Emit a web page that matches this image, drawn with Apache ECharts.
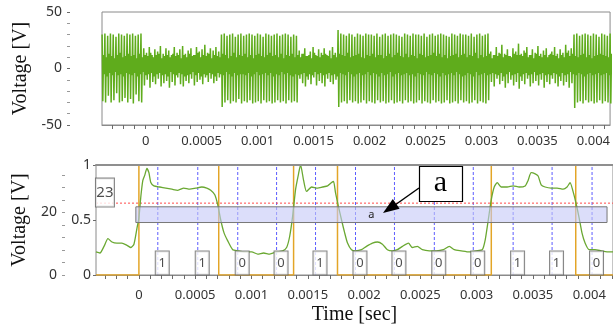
<!DOCTYPE html>
<html><head><meta charset="utf-8">
<script src="https://cdn.jsdelivr.net/npm/echarts@6/dist/echarts.min.js"></script>
<style>html,body{margin:0;padding:0;background:#fff}#c{width:613px;height:326px}</style>
</head><body><div id="c"></div>
<script>
// ---------- axis ranges & ticks ----------
const topXMin = -0.000390, topXMax = 0.004149;
const botXMin = -0.000381, botXMax = 0.004211;
const xLabelValues = [0,0.0005,0.001,0.0015,0.002,0.0025,0.003,0.0035,0.004];
const xTickValues = [-0.0003,-0.0002,-0.0001,0,0.0001,0.0002,0.0003,0.0004,0.0005,0.0006,0.0007,0.0008,0.0009,0.001,0.0011,0.0012,0.0013,0.0014,0.0015,0.0016,0.0017,0.0018,0.0019,0.002,0.0021,0.0022,0.0023,0.0024,0.0025,0.0026,0.0027,0.0028,0.0029,0.003,0.0031,0.0032,0.0033,0.0034,0.0035,0.0036,0.0037,0.0038,0.0039,0.004,0.0041,0.0042];
const outerMax = 35.2;
const outerTicks = [0,4,8,12,16,20,24,28,32];
const outerLabels = [0,20];

// ---------- top: received carrier (sampled, 4 samples per carrier cycle) ----------
const topT0 = -0.000389, topStep = 0.0000062;
const topPeaks = [
30,31,29,31,30,28,31,30,29,31,30,31,29,30,31,
18,14,19,12,17,15,20,13,18,16,12,19,14,17,20,13,16,18,12,19,15,17,21,14,18,16,19,15,
30,31,29,30,31,28,30,31,29,30,31,30,29,31,30,28,31,30,29,30,31,29,30,31,30,28,30,29,
16,13,18,11,15,19,12,17,14,18,12,16,19,14,
34,31,30,29,31,30,28,31,30,29,31,30,30,29,31,28,30,31,29,30,31,30,29,28,31,30,29,31,30,30,29,31,28,30,31,29,30,31,30,29,28,31,30,29,31,30,30,29,31,28,30,31,29,30,31,
15,12,19,14,21,13,17,11,18,15,22,13,16,19,12,17,14,20,13,16,18,12,15,19,13,17,14,21,16,18,
30,31,29,30,31,30,29,31,30,28,31,30,29,31];
const topTroughs = [
-29,-30,-24,-30,-28,-22,-30,-29,-26,-30,-27,-31,-23,-29,-30,
-15,-10,-17,-12,-14,-9,-16,-13,-11,-17,-12,-15,-8,-14,-16,-11,-13,-9,-15,-12,-10,-14,-8,-12,-9,-13,-11,-8,
-34,-30,-28,-31,-29,-30,-27,-31,-29,-30,-28,-31,-30,-29,-31,-28,-30,-29,-31,-30,-28,-30,-29,-31,-28,-30,-29,-30,
-9,-13,-16,-10,-14,-8,-15,-11,-13,-16,-9,-12,-14,-10,
-34,-30,-29,-31,-28,-30,-29,-31,-30,-28,-31,-29,-30,-31,-28,-30,-29,-31,-30,-28,-31,-30,-29,-31,-28,-30,-29,-31,-30,-28,-31,-29,-30,-31,-28,-30,-29,-31,-30,-28,-31,-30,-29,-31,-28,-30,-29,-31,-30,-28,-31,-29,-30,-31,-28,
-12,-16,-9,-14,-11,-17,-13,-10,-15,-12,-18,-11,-14,-9,-16,-13,-11,-15,-10,-17,-12,-14,-9,-13,-16,-11,-15,-12,-17,-13,
-35,-30,-29,-31,-28,-30,-29,-31,-30,-28,-31,-29,-30,-31];
const topCoreHi = [
12,10,13,11,9,12,14,10,11,13,11,12,9,13,10,12,11,14,10,12,
13,9,11,12,10,13,11,12,9,12,10,13,11,12,14,10,12,11,13,9,
12,11,10,13,12,9,11,14,10,12,11,13,10,12,9,12,13,11,10,12,
14,11,12,10,13,9,12,11,13,10,12,10,13,11,12,9,14,11,10,12,
13,11,9,12,10,13,12,11,14,10,11,12,13,10,9,12,11,13,10,12,
12,9,11,13,10,12,14,11,10,13,10,12,11,9,13,12,10,11,12,14,
11,13,10,12,9,11,12,13,10,12,13,10,12,11,14,9,12,10,11,13,
9,12,11,13,10,12,11,10,13,12,12,11,14,10,12,9,13,11,10,12,
10,13,12,11,9,12,10,14,11,13,11,10,12,13,10,12,9,11,12,13,
12,11,10,13];
const topCoreLo = [
-5,-7,-4,-6,-3,-6,-5,-7,-4,-5,-6,-4,-7,-5,-3,-6,-5,-4,-7,-5,
-4,-6,-5,-7,-3,-5,-6,-4,-5,-7,-6,-5,-3,-6,-4,-7,-5,-6,-4,-5,
-7,-4,-5,-6,-3,-5,-7,-4,-6,-5,-5,-6,-4,-7,-5,-3,-6,-5,-4,-6,
-4,-7,-5,-6,-3,-5,-4,-6,-7,-5,-6,-5,-4,-7,-5,-6,-3,-5,-4,-6,
-5,-4,-6,-5,-7,-4,-5,-6,-3,-5,-7,-5,-4,-6,-5,-3,-6,-4,-5,-7,
-4,-6,-5,-3,-7,-5,-4,-6,-5,-4,-6,-5,-7,-4,-5,-6,-3,-5,-6,-4,
-5,-7,-4,-6,-5,-4,-6,-3,-5,-7,-6,-4,-5,-7,-3,-6,-5,-4,-6,-5,
-4,-5,-6,-4,-7,-5,-3,-6,-5,-4,-7,-5,-4,-6,-5,-3,-6,-5,-4,-6,
-5,-6,-4,-5,-7,-4,-6,-5,-3,-5,-6,-4,-5,-7,-5,-4,-6,-5,-4,-6,
-5,-4,-6,-5];

// ---------- bottom: demodulated envelope ----------
const envT = [-0.000381,-0.000346,-0.000310,-0.000275,-0.000239,-0.000195,-0.000151,-0.000106,-0.000071,-0.000044,-0.000018,0,0.000018,0.000035,0.000053,0.000071,0.000089,0.000106,0.000133,0.000186,0.000239,0.000293,0.000346,0.000399,0.000452,0.000505,0.000559,0.000603,0.000638,0.000674,0.000700,0.000727,0.000754,0.000789,0.000833,0.000878,0.000940,0.001002,0.001055,0.001108,0.001161,0.001223,0.001277,0.001312,0.001339,0.001365,0.001392,0.001418,0.001436,0.001463,0.001489,0.001534,0.001587,0.001631,0.001676,0.001711,0.001729,0.001746,0.001773,0.001800,0.001826,0.001853,0.001888,0.001924,0.001977,0.002021,0.002074,0.002119,0.002163,0.002207,0.002252,0.002296,0.002340,0.002394,0.002429,0.002473,0.002518,0.002580,0.002642,0.002704,0.002757,0.002801,0.002863,0.002934,0.002996,0.003050,0.003076,0.003103,0.003129,0.003156,0.003183,0.003218,0.003271,0.003324,0.003378,0.003431,0.003457,0.003484,0.003520,0.003546,0.003573,0.003608,0.003661,0.003715,0.003768,0.003803,0.003830,0.003856,0.003883,0.003910,0.003936,0.003963,0.003998,0.004051,0.004105,0.004158,0.004211];
const envV = [0.21,0.20,0.26,0.33,0.30,0.29,0.29,0.27,0.25,0.28,0.42,0.52,0.72,0.86,0.91,0.97,0.93,0.84,0.81,0.80,0.79,0.78,0.77,0.79,0.78,0.79,0.80,0.79,0.77,0.73,0.64,0.50,0.39,0.31,0.23,0.22,0.21,0.21,0.19,0.20,0.19,0.21,0.22,0.25,0.35,0.53,0.78,0.92,1.00,0.86,0.76,0.80,0.79,0.80,0.81,0.84,0.85,0.75,0.62,0.50,0.39,0.29,0.23,0.22,0.23,0.26,0.29,0.30,0.28,0.23,0.22,0.23,0.26,0.29,0.25,0.26,0.23,0.22,0.22,0.23,0.26,0.23,0.22,0.21,0.22,0.23,0.32,0.50,0.68,0.80,0.84,0.80,0.80,0.81,0.80,0.81,0.86,0.93,0.92,0.90,0.82,0.80,0.79,0.79,0.78,0.80,0.84,0.76,0.65,0.52,0.38,0.29,0.23,0.23,0.22,0.21,0.21];
// reference bit stream (square wave)
const refT = [-0.000381,0,0,0.000709,0.000709,0.001374,0.001374,0.001764,0.001764,0.003130,0.003130,0.003880,0.003880,0.004211];
const refV = [0,0,1,1,0,0,1,1,0,0,1,1,0,0];
// decoded bits at sampling instants
const bitTimes = [0.000168,0.000523,0.000878,0.001223,0.001569,0.001924,0.002270,0.002624,0.002970,0.003324,0.003670,0.004025];
const bits = [1,1,0,0,1,0,0,0,0,1,1,0];
// threshold & window "a"
const threshold = 23;
const bandX = [-0.000027, 0.004158];
const bandY = [0.477, 0.62];

// ---------- build ----------
const topData = [];
for (let k = 0; k < topPeaks.length; k++) {
  const v = [topPeaks[k], topTroughs[k], topCoreHi[k], topCoreLo[k]];
  for (let j = 0; j < 4; j++) topData.push([topT0 + (4 * k + j) * topStep, v[j]]);
}
const envData = envT.map((t, i) => [t, envV[i]]);
const refData = refT.map((t, i) => [t, refV[i]]);
const bitData = bitTimes.map((t, i) => [t, 0, bits[i]]);
const clockData = [];
bitTimes.forEach(t => { clockData.push([t, 0], [t, 1], [t, '-']); });
const thrData = [[botXMin, threshold], [botXMax, threshold]];

const SANS = 'Noto Sans', SERIF = 'Liberation Serif';
const fmt = v => String(+(+v).toFixed(4));
const tickCol = '#6a6a6a', borderCol = '#8a8a8a';

function xAxisCfg(gi, min, max, margin, extra) {
  return Object.assign({
    gridIndex: gi, type: 'value', min, max,
    axisLine: { show: true, onZero: false, lineStyle: { color: borderCol } },
    axisTick: { show: true, customValues: xTickValues, length: 4, lineStyle: { color: tickCol } },
    axisLabel: { customValues: xLabelValues, formatter: fmt, fontFamily: SANS, fontSize: 13, color: '#333', margin },
    splitLine: { show: false }
  }, extra || {});
}

const chart = echarts.init(document.getElementById('c'), null, { renderer: 'canvas' });
chart.setOption({
  animation: false,
  backgroundColor: '#fff',
  grid: [
    { left: 102, top: 12, width: 512, height: 113, show: true, borderColor: borderCol, borderWidth: 1 },
    { left: 96, top: 165, width: 518, height: 111, show: true, borderColor: borderCol, borderWidth: 1 }
  ],
  xAxis: [
    xAxisCfg(0, topXMin, topXMax, 10),
    xAxisCfg(1, botXMin, botXMax, 14, {
      name: 'Time [sec]', nameLocation: 'middle', nameGap: 30,
      nameTextStyle: { fontFamily: SERIF, fontSize: 20, color: '#111' }
    }),
    { gridIndex: 1, type: 'value', position: 'top', min: botXMin, max: botXMax, z: 10,
      axisLine: { show: true, onZero: false, lineStyle: { color: '#8f8f8f', width: 2 } },
      axisTick: { show: false }, axisLabel: { show: false }, splitLine: { show: false } }
  ],
  yAxis: [
    { gridIndex: 0, type: 'value', position: 'left', offset: 32, min: -50, max: 50, interval: 50,
      axisLine: { show: false, onZero: false },
      axisTick: { show: true, length: 3, lineStyle: { color: tickCol } },
      minorTick: { show: true, splitNumber: 5, length: 3, lineStyle: { color: '#999' } },
      axisLabel: { fontFamily: SANS, fontSize: 14, color: '#333', margin: 8 },
      splitLine: { show: false },
      name: 'Voltage [V]', nameLocation: 'middle', nameGap: 36,
      nameTextStyle: { fontFamily: SERIF, fontSize: 20, color: '#111' } },
    { gridIndex: 1, type: 'value', position: 'left', min: 0, max: 1, interval: 0.5,
      axisLine: { show: false, onZero: false },
      axisTick: { show: true, length: 3, lineStyle: { color: tickCol } },
      axisLabel: { fontFamily: SANS, fontSize: 14, color: '#333', margin: 5 },
      splitLine: { show: false } },
    { gridIndex: 1, type: 'value', position: 'left', offset: 31, min: 0, max: outerMax,
      axisLine: { show: false, onZero: false },
      axisTick: { show: true, customValues: outerTicks, length: 3, lineStyle: { color: '#999' } },
      axisLabel: { customValues: outerLabels, fontFamily: SANS, fontSize: 14, color: '#333', margin: 8 },
      splitLine: { show: false },
      name: 'Voltage [V]', nameLocation: 'middle', nameGap: 31,
      nameTextStyle: { fontFamily: SERIF, fontSize: 20, color: '#111' } }
  ],
  series: [
    { type: 'line', xAxisIndex: 0, yAxisIndex: 0, data: topData, showSymbol: false, symbol: 'none',
      lineStyle: { color: '#5fac1c', width: 1.5 }, z: 2 },
    { type: 'line', xAxisIndex: 1, yAxisIndex: 1, data: clockData, showSymbol: false, symbol: 'none',
      connectNulls: false, lineStyle: { color: '#5c5cff', type: [3, 2], width: 1 }, z: 1 },
    { type: 'line', xAxisIndex: 1, yAxisIndex: 2, data: thrData, showSymbol: false, symbol: 'none',
      lineStyle: { color: '#ff4a4a', type: [2, 2], width: 1 }, z: 1 },
    { type: 'line', xAxisIndex: 1, yAxisIndex: 1, data: refData, showSymbol: false, symbol: 'none',
      lineStyle: { color: '#e3a527', width: 1.5 }, z: 2,
      markArea: { silent: true, z: 4,
        itemStyle: { color: 'rgba(196,200,246,0.6)', borderColor: '#777', borderWidth: 1 },
        label: { show: true, position: 'inside', formatter: 'a', fontFamily: SANS, fontSize: 11, color: '#222' },
        data: [[{ xAxis: bandX[0], yAxis: bandY[1] }, { xAxis: bandX[1], yAxis: bandY[0] }]] } },
    { type: 'line', xAxisIndex: 1, yAxisIndex: 1, data: envData, showSymbol: false, symbol: 'none',
      smooth: 0.2, lineStyle: { color: '#6aa832', width: 1.3 }, z: 3 },
    { type: 'scatter', xAxisIndex: 1, yAxisIndex: 1, data: bitData, symbolSize: 0.1,
      itemStyle: { color: 'transparent' }, z: 6, clip: false, silent: true,
      label: { show: true, position: [4.5, -12], formatter: p => String(p.data[2]),
        width: 11, height: 19, padding: [4, 1, 0, 1], align: 'center', verticalAlign: 'middle',
        backgroundColor: '#fff', borderColor: '#666', borderWidth: 1,
        fontFamily: SANS, fontSize: 13, color: '#222' } },
    { type: 'scatter', xAxisIndex: 1, yAxisIndex: 2, data: [[botXMin, threshold]], symbolSize: 0.1,
      itemStyle: { color: 'transparent' }, z: 7, clip: false, silent: true,
      label: { show: true, position: [9, -10.5], formatter: String(threshold),
        width: 16, height: 26, padding: [1, 1, 1, 1], align: 'center', verticalAlign: 'middle',
        backgroundColor: '#fff', borderColor: '#666', borderWidth: 1,
        fontFamily: SANS, fontSize: 15, color: '#222' } }
  ],
  graphic: [
    { type: 'line', shape: { x1: 419, y1: 188, x2: 395, y2: 205 }, style: { stroke: '#000', lineWidth: 1.5 }, z: 100 },
    { type: 'polygon', shape: { points: [[383, 213], [399.6, 208.8], [392.8, 199]] }, style: { fill: '#000' }, z: 100 },
    { type: 'rect', shape: { x: 419.5, y: 166.5, width: 43, height: 35 }, style: { fill: '#fff', stroke: '#000', lineWidth: 1.2 }, z: 100 },
    { type: 'text', x: 440.5, y: 183, z: 101, style: { text: 'a', font: '30px "Liberation Serif"', textAlign: 'center', textVerticalAlign: 'middle', fill: '#000' } }
  ]
});
</script></body></html>
